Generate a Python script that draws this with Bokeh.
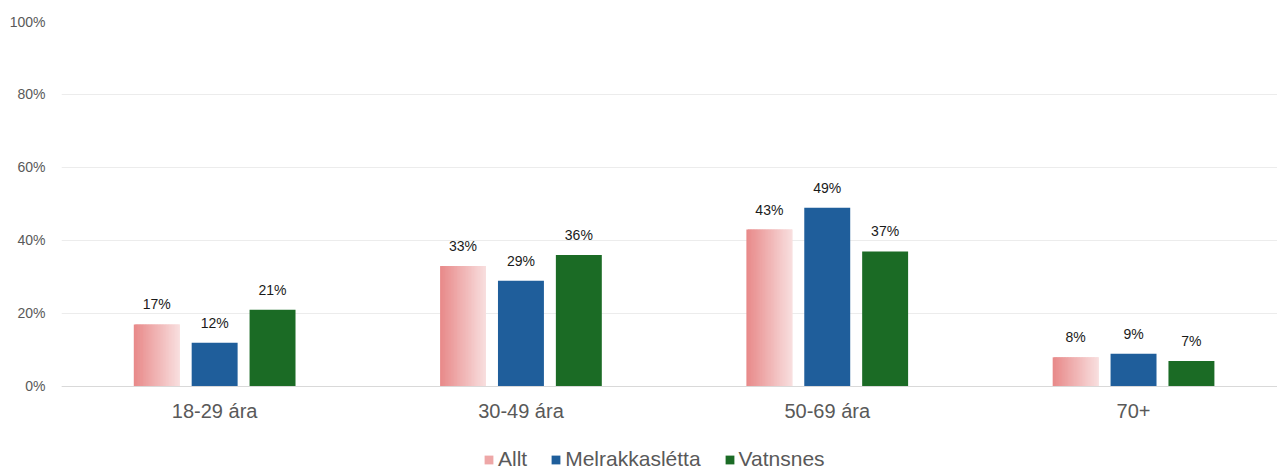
from bokeh.plotting import figure
from bokeh.models import ColumnDataSource, Range1d, FixedTicker, Legend, LegendItem, Span
from bokeh.embed import file_html
from bokeh.resources import INLINE

categories = ["18-29 ára", "30-49 ára", "50-69 ára", "70+"]
series_names = ["Allt", "Melrakkaslétta", "Vatnsnes"]
allt = [17, 33, 43, 8]
melrakkasletta = [12, 29, 49, 9]
vatnsnes = [21, 36, 37, 7]
y_ticks = [0, 20, 40, 60, 80, 100]

BLUE = "#1f5e9b"
GREEN = "#1b6b25"
GRAD_LEFT = (232, 138, 138)
GRAD_RIGHT = (248, 222, 222)
FONT = "Liberation Sans"

BAR_W = 0.15
STEP = 0.189
N_STRIPS = 30

# frame extends below 0 so that the category labels and legend live inside it
p = figure(frame_width=1216, frame_height=448, output_backend="svg", toolbar_location=None,
           x_range=Range1d(0, 3.97), y_range=Range1d(-22.74, 100),
           min_border_left=61, min_border_right=0, min_border_top=21, min_border_bottom=0)
p.outline_line_color = None
p.background_fill_color = "white"
p.border_fill_color = "white"

# Allt: gradient bars made of thin overlapping strips
lefts, rights, tops, cols = [], [], [], []
sw = BAR_W / N_STRIPS
for i, v in enumerate(allt):
    left = i + 0.5 - STEP - BAR_W / 2
    for k in range(N_STRIPS):
        t = k / (N_STRIPS - 1)
        c = tuple(int(round(a + (b - a) * t)) for a, b in zip(GRAD_LEFT, GRAD_RIGHT))
        lefts.append(left + k * sw)
        rights.append(left + (k + 1) * sw + (sw if k < N_STRIPS - 1 else 0))
        tops.append(v)
        cols.append("#%02x%02x%02x" % c)
src_a = ColumnDataSource(dict(left=lefts, right=rights, top=tops, bottom=[0] * len(tops), color=cols))
r_a = p.quad(left="left", right="right", top="top", bottom="bottom", fill_color="color",
             line_color=None, source=src_a)

src_m = ColumnDataSource(dict(x=[i + 0.5 for i in range(4)], top=melrakkasletta))
r_m = p.vbar(x="x", top="top", width=BAR_W, bottom=0, fill_color=BLUE, line_color=None, source=src_m)
src_v = ColumnDataSource(dict(x=[i + 0.5 + STEP for i in range(4)], top=vatnsnes))
r_v = p.vbar(x="x", top="top", width=BAR_W, bottom=0, fill_color=GREEN, line_color=None, source=src_v)

# baseline (category axis line)
p.add_layout(Span(location=0, dimension="width", line_color="#d9d9d9", line_width=1))

# data labels
lx, ly, lt = [], [], []
for off, vals in ((-STEP, allt), (0, melrakkasletta), (STEP, vatnsnes)):
    for i, v in enumerate(vals):
        lx.append(i + 0.5 + off)
        ly.append(v)
        lt.append(f"{v}%")
src_l = ColumnDataSource(dict(x=lx, y=ly, t=lt))
p.text(x="x", y="y", text="t", source=src_l, text_align="center", text_baseline="middle",
       y_offset=-20, text_font_size="14px", text_color="#1a1a1a", text_font={"value": FONT})

# category labels
src_c = ColumnDataSource(dict(x=[i + 0.5 for i in range(4)], y=[0] * 4, t=categories))
p.text(x="x", y="y", text="t", source=src_c, text_align="center", text_baseline="middle",
       y_offset=25, text_font_size="20px", text_color="#595959", text_font={"value": FONT})

p.xaxis.visible = False

p.yaxis.ticker = FixedTicker(ticks=y_ticks)
p.yaxis.major_label_overrides = {v: f"{v}%" for v in y_ticks}
p.yaxis.axis_line_color = None
p.yaxis.major_tick_line_color = None
p.yaxis.minor_tick_line_color = None
p.yaxis.major_label_text_font_size = "14px"
p.yaxis.major_label_text_color = "#595959"
p.yaxis.major_label_text_font = FONT
p.yaxis.major_label_standoff = 10

p.xgrid.grid_line_color = None
p.ygrid.grid_line_color = "#ececec"
p.ygrid.grid_line_width = 1

legend = Legend(items=[
    LegendItem(label="Allt", renderers=[r_a], index=N_STRIPS // 3),
    LegendItem(label="Melrakkaslétta", renderers=[r_m]),
    LegendItem(label="Vatnsnes", renderers=[r_v]),
], orientation="horizontal", location=(422, -2))
legend.label_text_font_size = "21px"
legend.label_text_color = "#595959"
legend.label_text_font = FONT
legend.glyph_width = 11
legend.glyph_height = 11
legend.label_standoff = 4
legend.spacing = 23
legend.padding = 0
legend.margin = 0
legend.border_line_color = None
legend.background_fill_alpha = 0
p.add_layout(legend, "center")

open("out.html", "w").write(file_html(p, INLINE))
